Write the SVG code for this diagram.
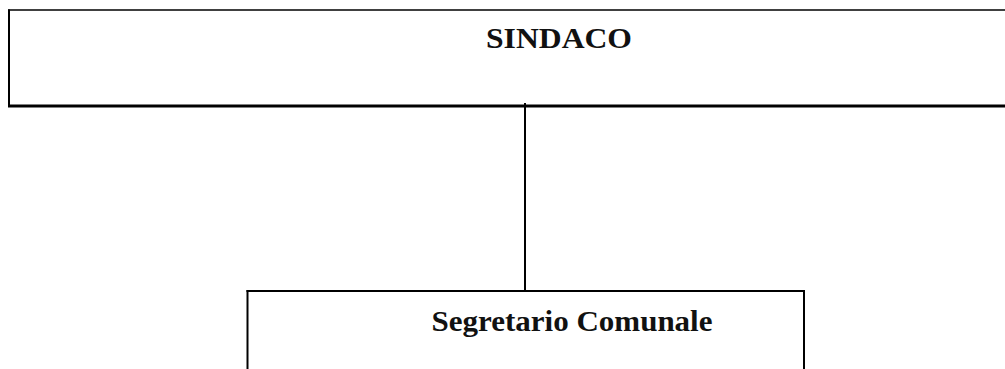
<svg xmlns="http://www.w3.org/2000/svg" width="1005" height="369" viewBox="0 0 1005 369">
<style>
.lbl{font-family:"Liberation Serif","Times New Roman",serif;font-weight:bold;font-size:29px;fill:#111;}
.ln{stroke:#000;fill:none;}
</style>
<rect x="0" y="0" width="1005" height="369" fill="#fff"/>
<g id="sindaco">
<line class="ln" x1="8" y1="10" x2="1005" y2="10" stroke="#333" stroke-width="1.5"/>
<line class="ln" x1="9" y1="9.5" x2="9" y2="107" stroke="#111" stroke-width="2"/>
<line class="ln" x1="8" y1="106" x2="1005" y2="106" stroke-width="3"/>
<text class="lbl" x="559" y="48" text-anchor="middle" textLength="146" lengthAdjust="spacingAndGlyphs">SINDACO</text>
</g>
<g id="segretario">
<line class="ln" x1="246.5" y1="291" x2="805" y2="291" stroke-width="2"/>
<line class="ln" x1="247.5" y1="290" x2="247.5" y2="369" stroke="#222" stroke-width="2"/>
<line class="ln" x1="804" y1="290" x2="804" y2="369" stroke="#222" stroke-width="2"/>
<text class="lbl" x="572" y="331" text-anchor="middle" textLength="281" lengthAdjust="spacingAndGlyphs">Segretario Comunale</text>
</g>
<g id="connectors">
<line class="ln" x1="525" y1="103" x2="525" y2="291" stroke-width="2"/>
</g>
</svg>
